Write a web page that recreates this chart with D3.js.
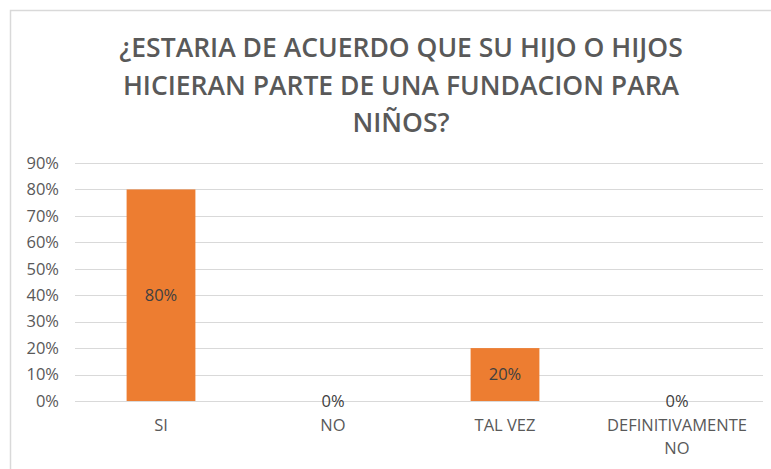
<!DOCTYPE html>
<html lang="es">
<head>
<meta charset="UTF-8">
<title>Fundacion para niños</title>
<script src="https://d3js.org/d3.v7.min.js"></script>
<style>
  body { margin: 0; background: #fff; }
  svg { display: block; font-family: "Open Sans", "Liberation Sans", sans-serif; }
  .title { fill: #595959; font-weight: 600; font-size: 26.5px; }
  .ytick text { fill: #595959; font-size: 16.5px; font-family: "Open Sans", sans-serif; }
  .label { fill: #404040; font-size: 16.5px; }
</style>
</head>
<body>
<div id="chart"></div>
<script>
// chart data
const categories = ["SI", "NO", "TAL VEZ", "DEFINITIVAMENTE NO"];
const values = [0.80, 0.00, 0.20, 0.00];
const yTicks = [0, 0.1, 0.2, 0.3, 0.4, 0.5, 0.6, 0.7, 0.8, 0.9];
const titleLines = [
  "¿ESTARIA DE ACUERDO QUE SU HIJO O HIJOS",
  "HICIERAN PARTE DE UNA FUNDACION PARA",
  "NIÑOS?"
];
const categoryLines = {
  "SI": ["SI"],
  "NO": ["NO"],
  "TAL VEZ": ["TAL VEZ"],
  "DEFINITIVAMENTE NO": ["DEFINITIVAMENTE", "NO"]
};

const width = 771, height = 469;
const margin = { top: 163, right: 8, bottom: 68, left: 75 };

const svg = d3.select("#chart").append("svg")
  .attr("width", width)
  .attr("height", height);

// chart frame (only top and left edges are visible)
svg.append("rect")
  .attr("x", 10.5).attr("y", 10.5)
  .attr("width", width + 20).attr("height", height + 20)
  .attr("fill", "none")
  .attr("stroke", "#d9d9d9")
  .attr("stroke-width", 1.5);

// title
svg.append("g").selectAll("text")
  .data(titleLines)
  .join("text")
  .attr("class", "title")
  .attr("x", 401)
  .attr("y", (d, i) => 57 + i * 37.5)
  .attr("text-anchor", "middle")
  .text(d => d);

const x = d3.scaleBand()
  .domain(categories)
  .range([margin.left, width - margin.right])
  .paddingInner(0.6)
  .paddingOuter(0.3);

const y = d3.scaleLinear()
  .domain([0, 0.9])
  .range([height - margin.bottom, margin.top]);

// gridlines
svg.append("g")
  .selectAll("line")
  .data(yTicks)
  .join("line")
  .attr("x1", margin.left)
  .attr("x2", width - margin.right)
  .attr("y1", d => Math.round(y(d)) + 0.5)
  .attr("y2", d => Math.round(y(d)) + 0.5)
  .attr("stroke", "#d9d9d9")
  .attr("stroke-width", 1.2);

// y axis
const yAxis = svg.append("g")
  .attr("class", "ytick")
  .attr("transform", `translate(${margin.left - 16},0)`)
  .call(d3.axisLeft(y).tickValues(yTicks).tickFormat(d3.format(".0%")).tickSize(0).tickPadding(0));
yAxis.attr("font-family", null).attr("font-size", null);
yAxis.select(".domain").remove();

// bars
svg.append("g")
  .selectAll("rect")
  .data(values)
  .join("rect")
  .attr("x", (d, i) => x(categories[i]))
  .attr("width", x.bandwidth())
  .attr("y", d => y(d))
  .attr("height", d => y(0) - y(d))
  .attr("fill", "#ed7d31");

// data labels
svg.append("g")
  .selectAll("text")
  .data(values)
  .join("text")
  .attr("class", "label")
  .attr("x", (d, i) => x(categories[i]) + x.bandwidth() / 2)
  .attr("y", d => (y(0) + y(d)) / 2)
  .attr("dy", "0.35em")
  .attr("text-anchor", "middle")
  .text(d => d3.format(".0%")(d));

// category labels
const catG = svg.append("g")
  .selectAll("text")
  .data(categories)
  .join("text")
  .attr("text-anchor", "middle")
  .attr("x", d => x(d) + x.bandwidth() / 2)
  .attr("y", 431);
catG.selectAll("tspan")
  .data(d => categoryLines[d])
  .join("tspan")
  .attr("x", function () { return d3.select(this.parentNode).attr("x"); })
  .attr("dy", (d, i) => i === 0 ? 0 : 23)
  .style("fill", "#595959")
  .style("font-size", "16.5px")
  .text(d => d);
</script>
</body>
</html>
